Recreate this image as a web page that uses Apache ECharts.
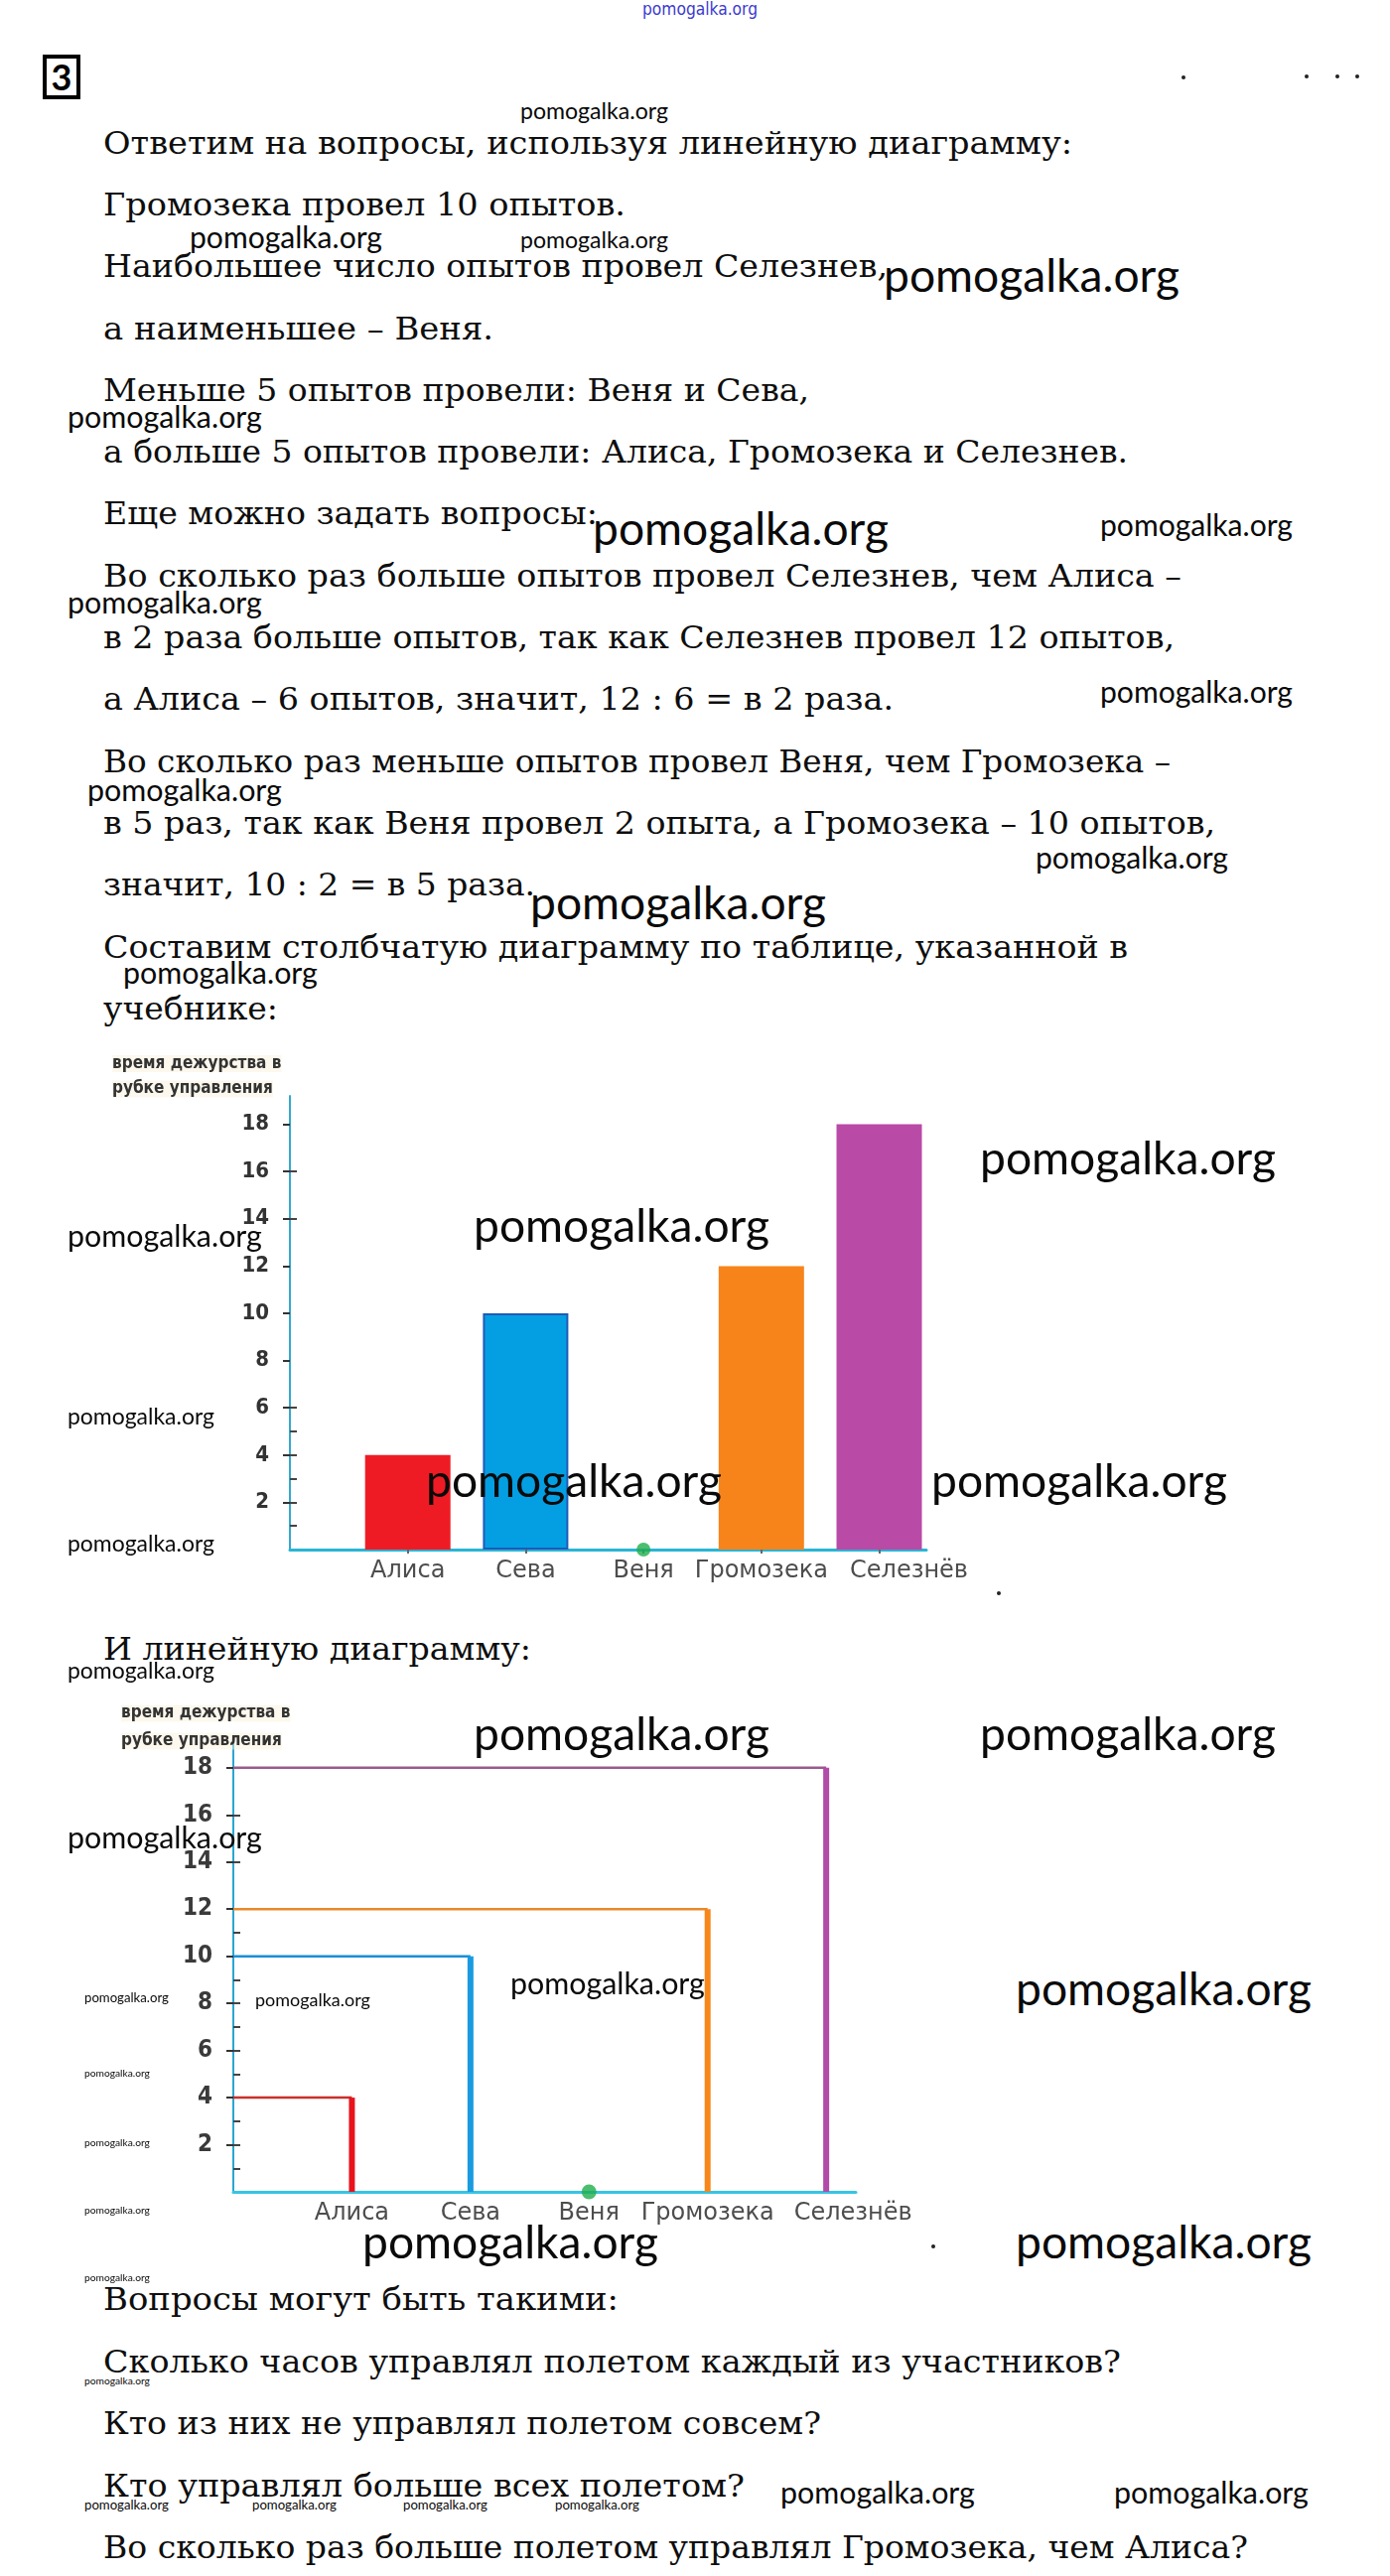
<!DOCTYPE html>
<html><head><meta charset="utf-8">
<script src="https://cdn.jsdelivr.net/npm/echarts@6.0.0/dist/echarts.min.js"></script>
<style>
 html,body{margin:0;padding:0;background:#fff}
 #page{position:relative;width:1400px;height:2595px;overflow:hidden;background:#fff}
 .ln{position:absolute;left:104px;height:40px;line-height:40px;font-family:"DejaVu Serif",serif;font-size:31px;color:#0e0e0e;white-space:nowrap;transform-origin:0 0;z-index:3}
 .wm{position:absolute;font-family:Lato,sans-serif;color:#0a0a0a;white-space:nowrap;line-height:1;z-index:10}
 .chart{position:absolute;left:0;width:1000px;height:580px;z-index:2}
 #num{position:absolute;left:43px;top:55px;width:30px;height:37px;border:4px solid #000;font:bold 36px Lato,sans-serif;line-height:37px;text-align:center;color:#000}
 .dot{position:absolute;width:4px;height:4px;background:#222;border-radius:2px}
</style></head>
<body><div id="page">
 <div id="num">3</div>
 <div id="bar" class="chart" style="top:1040px"></div>
 <div id="line" class="chart" style="top:1690px"></div>
</div>
<script>
// ---------- data ----------
const NAMES = ['Алиса', 'Сева', 'Веня', 'Громозека', 'Селезнёв'];
const HOURS = [4, 10, 0, 12, 18];
const Y_TICKS = [2, 4, 6, 8, 10, 12, 14, 16, 18];
const Y_TITLE = ['время дежурства в', 'рубке управления'];

const TEXT_TOP = [
  'Ответим на вопросы, используя линейную диаграмму:',
  'Громозека провел 10 опытов.',
  'Наибольшее число опытов провел Селезнев,',
  'а наименьшее – Веня.',
  'Меньше 5 опытов провели: Веня и Сева,',
  'а больше 5 опытов провели: Алиса, Громозека и Селезнев.',
  'Еще можно задать вопросы:',
  'Во сколько раз больше опытов провел Селезнев, чем Алиса –',
  'в 2 раза больше опытов, так как Селезнев провел 12 опытов,',
  'а Алиса – 6 опытов, значит, 12 : 6 = в 2 раза.',
  'Во сколько раз меньше опытов провел Веня, чем Громозека –',
  'в 5 раз, так как Веня провел 2 опыта, а Громозека – 10 опытов,',
  'значит, 10 : 2 = в 5 раза.',
  'Составим столбчатую диаграмму по таблице, указанной в',
  'учебнике:'
];
const TEXT_MID = ['И линейную диаграмму:'];
const TEXT_BOTTOM = [
  'Вопросы могут быть такими:',
  'Сколько часов управлял полетом каждый из участников?',
  'Кто из них не управлял полетом совсем?',
  'Кто управлял больше всех полетом?',
  'Во сколько раз больше полетом управлял Громозека, чем Алиса?'
];
const WM_TEXT = 'pomogalka.org';

// ---------- layout / style ----------
const Y_TOP = [143, 205, 267, 330, 392, 454, 516, 579, 641, 703, 766, 828, 890, 953, 1015];
const R_TOP = [1080, 630, 894, 497, 815, 1136, 602, 1190, 1183, 900, 1179, 1224, 539, 1136, 280];
const Y_MID = [1660];
const R_MID = [535];
const Y_BOTTOM = [2315, 2378, 2440, 2503, 2565];
const R_BOTTOM = [623, 1129, 827, 750, 1257];
const WATERMARKS = [
  [524,114,149],[191,242,194],[524,244,149],[890,282,298],[68,423,196],[597,537,298],
  [1108,532,194],[68,610,196],[1108,700,194],[88,799,196],[1043,867,194],[534,914,298],
  [124,983,196],[987,1171,298],[68,1248,196],[477,1239,298],[68,1429,148],[429,1496,298],
  [938,1496,298],[68,1557,148],[68,1685,148],[477,1751,298],[987,1751,298],[68,1854,196],
  [85,2014,85],[257,2016,116],[514,2001,196],[1023,2008,298],[85,2089,66],[85,2159,66],
  [85,2227,66],[365,2263,298],[1023,2263,298],[85,2295,66],[85,2399,66],
  [85,2525,85],[254,2525,85],[406,2525,85],[559,2525,85],[786,2514,196],[1122,2514,196]
];
const DOTS = [[1190,76],[1314,75],[1345,75],[1365,75],[1004,1603],[938,2261]];
const BAR_COLORS = ['#ef1b24', '#049fe3', '#1fae4c', '#f7841b', '#b94aa6'];
const H_COLORS = ['#c9302c', '#1a8fd8', '#1fae4c', '#e8892a', '#9a5a8e'];
const V_COLORS = ['#e8141c', '#1a9be0', '#1fae4c', '#f7871a', '#b24aa8'];
const TEXT_LEFT = 104;

const page = document.getElementById('page');

// ---------- text ----------
function addLines(arr, ys, rights) {
  arr.forEach((t, i) => {
    const d = document.createElement('div');
    d.className = 'ln';
    d.textContent = t;
    d.style.top = (ys[i] - 19.5) + 'px';
    page.appendChild(d);
    const w = d.getBoundingClientRect().width;
    d.style.transform = 'scaleX(' + ((rights[i] - TEXT_LEFT) / w) + ')';
  });
}
addLines(TEXT_TOP, Y_TOP, R_TOP);
addLines(TEXT_MID, Y_MID, R_MID);
addLines(TEXT_BOTTOM, Y_BOTTOM, R_BOTTOM);

// ---------- watermarks ----------
function addWm(x, cy, w, extra) {
  const d = document.createElement('div');
  d.className = 'wm';
  d.textContent = WM_TEXT;
  d.style.fontSize = '100px';
  if (extra) Object.assign(d.style, extra);
  page.appendChild(d);
  const ww = d.getBoundingClientRect().width;
  const fs = 100 * w / ww;
  d.style.fontSize = fs + 'px';
  d.style.left = x + 'px';
  d.style.top = (cy - 0.627 * fs) + 'px';
}
WATERMARKS.forEach(([x, cy, w]) => addWm(x, cy, w));
addWm(647, 12, 116, {color: '#3a3ad0', fontFamily: '"Liberation Sans Narrow","DejaVu Sans Condensed",sans-serif'});
DOTS.forEach(([x, y]) => {
  const d = document.createElement('div');
  d.className = 'dot'; d.style.left = x + 'px'; d.style.top = y + 'px';
  page.appendChild(d);
});

// ---------- charts ----------
const CAT_IDX = NAMES.map((n, i) => i + 1);
const labelBase = {
  formatter: v => NAMES[Math.round(v) - 1] || '',
  margin: 10, fontFamily: 'DejaVu Sans', fontSize: 24, color: '#4d4d4d'
};
// main axis carries all but the last category label; an overlaid axis carries the last one,
// nudged right as in the original so the two neighbours do not collide
function xAxes(max, lineColor, withTicks, lastShift) {
  return [
    {
      type: 'value', min: 0, max: max, interval: 1, splitLine: {show: false},
      axisLine: {show: true, onZero: false, lineStyle: {color: lineColor, width: 3}},
      axisTick: {show: withTicks, customValues: CAT_IDX, length: 4, lineStyle: {color: '#666', width: 2}},
      axisLabel: Object.assign({customValues: CAT_IDX.slice(0, -1)}, labelBase)
    },
    {
      type: 'value', min: 0, max: max, interval: 1, position: 'bottom', splitLine: {show: false},
      axisLine: {show: false}, axisTick: {show: false},
      axisLabel: Object.assign({customValues: CAT_IDX.slice(-1), padding: [0, 0, 0, lastShift]}, labelBase)
    }
  ];
}
const zeroPoints = HOURS.map((v, i) => [i + 1, v]).filter(p => p[1] === 0);

function yAxes(max, lineColor, labelSize, labelColor, innerTicks) {
  return [
    {
      type: 'value', min: 0, max: max, interval: 2, splitLine: {show: false},
      axisLine: {show: true, lineStyle: {color: lineColor, width: 2}},
      axisTick: {show: true, customValues: Y_TICKS, length: 7, lineStyle: {color: '#333', width: 2}},
      axisLabel: {customValues: Y_TICKS, margin: 21, fontFamily: 'DejaVu Sans Condensed',
        showMinLabel: true, showMaxLabel: true,
        fontWeight: 'bold', fontSize: labelSize, color: labelColor}
    },
    {
      type: 'value', min: 0, max: max, interval: 2, position: 'left', splitLine: {show: false},
      axisLine: {show: false}, axisLabel: {show: false},
      axisTick: {show: true, inside: true, customValues: innerTicks, length: 7, lineStyle: {color: '#444', width: 2}}
    }
  ];
}
function titleGraphic(x, y1, y2) {
  return Y_TITLE.map((t, i) => ({
    type: 'text', x: x, y: i ? y2 : y1, z: 10,
    style: {text: t, font: 'bold 17px "DejaVu Sans Condensed"', fill: '#333',
      verticalAlign: 'middle', backgroundColor: 'rgba(250,240,215,0.45)'}
  }));
}

const bar = echarts.init(document.getElementById('bar'));
bar.setOption({
  animation: false,
  grid: {left: 292, top: 64, width: 641, height: 457, containLabel: false, outerBoundsMode: 'none'},
  xAxis: xAxes(5.4, '#29b5d4', true, 60),
  yAxis: yAxes(19.2, '#35a8cc', 22, '#333', [1, 2, 3, 4, 5, 6, 14, 16]),
  graphic: titleGraphic(113, 31.5, 57),
  series: [
    {
      type: 'bar', barWidth: 86, z: 3,
      data: HOURS.map((v, i) => ({
        value: [i + 1, v],
        itemStyle: {color: BAR_COLORS[i], borderColor: i === 1 ? '#1e5bb8' : BAR_COLORS[i], borderWidth: i === 1 ? 2 : 0}
      }))
    },
    {type: 'scatter', data: zeroPoints, symbolSize: 14, itemStyle: {color: '#1fae4c'}, z: 5}
  ]
});

const lineSeries = [];
HOURS.forEach((v, i) => {
  if (v > 0) {
    lineSeries.push({type: 'line', data: [[0, v], [i + 1, v]], symbol: 'none',
      lineStyle: {color: H_COLORS[i], width: 2.5}, z: 3});
    lineSeries.push({type: 'line', data: [[i + 1, v], [i + 1, 0]], symbol: 'none',
      lineStyle: {color: V_COLORS[i], width: 6, cap: 'butt'}, z: 4});
  }
});
lineSeries.push({type: 'scatter', data: zeroPoints, symbolSize: 15, itemStyle: {color: '#1fae4c'}, z: 5});

const line = echarts.init(document.getElementById('line'));
line.setOption({
  animation: false,
  grid: {left: 235, top: 60, width: 627, height: 458, containLabel: false, outerBoundsMode: 'none'},
  xAxis: xAxes(5.25, '#38c4e4', false, 54),
  yAxis: yAxes(19.3, '#2aa6d2', 24, '#3a3a3a', [1, 2, 3, 4, 5, 6, 7, 8, 9, 10, 11, 12, 14, 16]),
  graphic: titleGraphic(122, 36, 64),
  series: lineSeries
});
</script>
</body></html>
